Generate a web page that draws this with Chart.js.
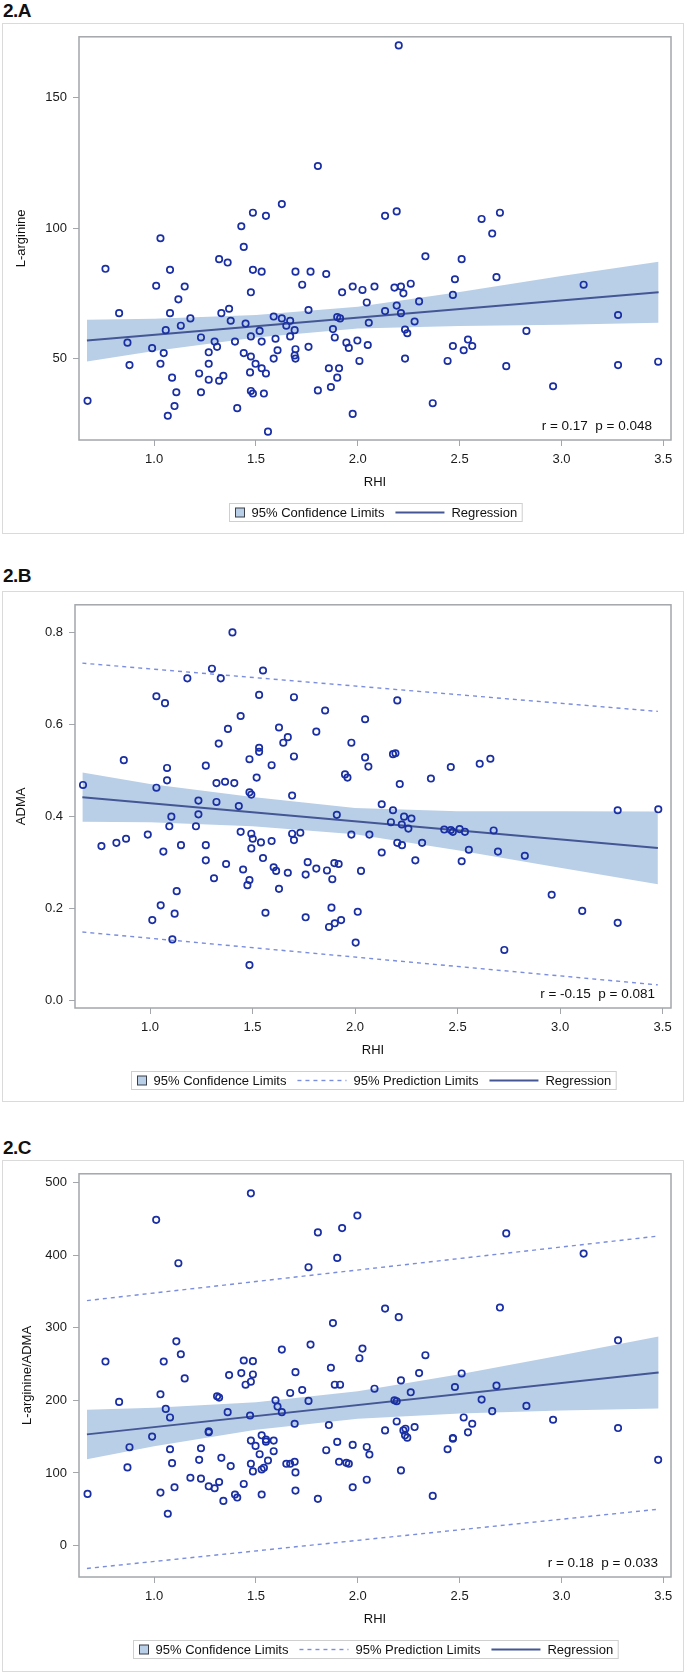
<!DOCTYPE html>
<html>
<head>
<meta charset="utf-8">
<script src="https://cdn.jsdelivr.net/npm/chart.js@4.4.0/dist/chart.umd.min.js"></script>
<style>
  body { margin: 0; background: #fff; width: 685px; height: 1674px; position: relative; overflow: hidden;
         font-family: "Liberation Sans", Arial, sans-serif; }
  .tag { position: absolute; left: 3px; font-size: 19px; line-height: 19px; color: #111; font-weight: bold; letter-spacing: -0.5px; }
  .box { position: absolute; left: 2px; width: 682px; border: 1.5px solid #dadada; box-sizing: border-box; pointer-events: none; }
  canvas { position: absolute; left: 2px; }
</style>
</head>
<body>
<div class="tag" style="top:1px">2.A</div>
<div class="tag" style="top:566px">2.B</div>
<div class="tag" style="top:1138px">2.C</div>
<canvas id="chartA" width="682" height="511" style="top:23px"></canvas>
<canvas id="chartB" width="682" height="511" style="top:591px"></canvas>
<canvas id="chartC" width="682" height="512" style="top:1160px"></canvas>
<div class="box" style="top:23px;height:511px"></div>
<div class="box" style="top:591px;height:511px"></div>
<div class="box" style="top:1160px;height:512px"></div>
<script>
// ---- data ----
var xTicks = [1.0, 1.5, 2.0, 2.5, 3.0, 3.5];
var yTicksA = [50, 100, 150];
var yTicksB = [0.0, 0.2, 0.4, 0.6, 0.8];
var yTicksC = [0, 100, 200, 300, 400, 500];

// 2.A  RHI vs L-arginine
var rhiA = [0.673,0.761,0.828,0.869,0.879,0.990,1.010,1.031,1.031,1.047,1.057,1.067,1.078,1.078,1.088,1.100,1.109,1.119,1.131,1.150,
  1.178,1.221,1.230,1.230,1.268,1.268,1.268,1.297,1.309,1.319,1.319,1.330,1.340,1.361,1.368,1.376,1.397,1.408,1.428,1.440,
  1.440,1.449,1.471,1.475,1.475,1.475,1.475,1.485,1.485,1.485,1.498,1.518,1.528,1.528,1.528,1.539,1.549,1.549,1.559,1.587,
  1.587,1.596,1.606,1.627,1.627,1.649,1.668,1.668,1.690,1.694,1.694,1.690,1.694,1.727,1.758,1.758,1.768,1.804,1.804,1.845,
  1.858,1.868,1.878,1.887,1.899,1.899,1.913,1.908,1.923,1.944,1.956,1.975,1.975,1.998,2.008,2.023,2.044,2.049,2.054,
  2.201,2.082,2.134,2.191,2.134,2.180,2.212,2.224,2.260,2.191,2.212,2.301,2.279,2.232,2.243,2.232,2.332,2.368,2.441,2.467,
  2.467,2.477,2.510,2.520,2.541,2.562,2.608,2.660,2.681,2.698,2.729,2.828,2.959,3.109,3.278,3.278,3.475];
var argA = [33.9,84.5,67.5,56.2,47.6,54.1,78.0,96.2,48.1,52.2,61.0,28.2,84.1,67.5,42.8,31.9,37.2,72.8,62.7,77.7,
  65.5,44.4,58.2,37.2,52.5,48.1,42.0,56.6,54.6,88.2,41.6,67.5,43.5,86.9,69.2,64.6,56.6,31.1,100.8,92.9,
  52.2,63.5,44.8,75.5,58.6,50.9,37.7,106.0,84.1,36.7,48.1,60.7,83.4,56.6,46.4,36.7,104.8,44.4,22.1,66.2,
  50.1,57.7,53.3,109.3,65.5,62.7,64.6,58.6,61.0,83.4,53.7,51.3,50.1,78.4,68.7,54.6,83.4,123.9,37.9,82.5,
  46.4,39.2,61.4,58.2,42.8,66.0,65.5,46.4,75.5,56.2,54.2,77.7,28.9,57.0,49.2,76.4,71.6,55.3,63.8,
  170.1,77.7,104.8,106.5,68.3,77.3,77.7,75.1,78.8,70.4,67.5,72.0,64.3,61.2,59.8,50.1,89.3,33.0,49.2,54.9,
  74.5,80.5,88.2,53.3,57.4,54.9,103.6,98.0,81.3,106.0,47.2,60.7,39.5,78.4,66.8,47.6,48.9];

// 2.B  RHI vs ADMA
var rhiB = [0.673,0.763,0.836,0.872,0.883,0.989,1.011,1.031,1.031,1.052,1.065,1.073,1.083,1.083,1.094,1.104,1.109,1.120,1.130,1.151,
  1.182,1.224,1.236,1.236,1.272,1.272,1.272,1.302,1.312,1.324,1.324,1.335,1.345,1.366,1.371,1.380,1.411,1.402,1.433,1.442,
  1.442,1.454,1.475,1.485,1.485,1.485,1.485,1.494,1.494,1.494,1.501,1.520,1.532,1.532,1.532,1.541,1.551,1.551,1.563,1.593,
  1.593,1.603,1.615,1.629,1.629,1.650,1.672,1.672,1.693,1.693,1.702,1.702,1.702,1.733,1.759,1.759,1.769,1.811,1.811,1.854,
  1.863,1.873,1.885,1.889,1.899,1.901,1.911,1.920,1.932,1.951,1.963,1.982,1.982,2.003,2.013,2.029,2.049,2.049,2.065,2.070,
  2.206,2.185,2.197,2.218,2.130,2.130,2.185,2.175,2.228,2.239,2.260,2.275,2.206,2.229,2.327,2.294,2.370,2.467,2.435,2.467,
  2.477,2.510,2.536,2.555,2.520,2.608,2.660,2.676,2.697,2.728,2.828,2.959,3.108,3.281,3.281,3.479];
var admaB = [0.468,0.335,0.342,0.522,0.351,0.360,0.174,0.661,0.462,0.206,0.323,0.646,0.505,0.478,0.378,0.399,0.132,0.188,0.237,0.337,
  0.700,0.378,0.434,0.404,0.510,0.337,0.304,0.721,0.265,0.472,0.431,0.558,0.700,0.475,0.296,0.590,0.472,0.800,0.422,0.618,
  0.366,0.284,0.250,0.524,0.452,0.261,0.076,0.447,0.362,0.330,0.351,0.484,0.664,0.549,0.540,0.343,0.717,0.309,0.190,0.511,
  0.346,0.289,0.281,0.593,0.242,0.560,0.572,0.277,0.445,0.362,0.659,0.530,0.348,0.364,0.273,0.180,0.300,0.584,0.286,0.630,
  0.282,0.159,0.201,0.263,0.298,0.167,0.403,0.296,0.174,0.491,0.484,0.560,0.360,0.125,0.192,0.281,0.611,0.528,0.508,0.360,
  0.652,0.535,0.537,0.470,0.426,0.321,0.413,0.387,0.382,0.399,0.373,0.395,0.342,0.337,0.342,0.304,0.482,0.507,0.371,0.370,
  0.366,0.372,0.366,0.327,0.302,0.514,0.525,0.369,0.323,0.109,0.314,0.229,0.194,0.413,0.168,0.415];

// 2.C  RHI vs L-arginine/ADMA
var rhiC = [0.673,0.761,0.828,0.869,0.879,0.990,1.010,1.031,1.031,1.047,1.057,1.067,1.078,1.078,1.088,1.100,1.109,1.119,1.131,1.150,
  1.178,1.221,1.230,1.230,1.268,1.268,1.268,1.297,1.309,1.319,1.319,1.330,1.340,1.361,1.368,1.376,1.397,1.408,1.428,1.440,
  1.440,1.449,1.471,1.475,1.475,1.475,1.475,1.485,1.485,1.485,1.498,1.518,1.528,1.528,1.528,1.539,1.549,1.549,1.559,1.587,
  1.587,1.596,1.606,1.627,1.627,1.649,1.668,1.668,1.690,1.694,1.690,1.694,1.694,1.727,1.758,1.758,1.768,1.804,1.804,1.845,
  1.858,1.868,1.878,1.887,1.899,1.899,1.913,1.908,1.923,1.944,1.956,1.975,1.975,1.998,2.008,2.023,2.044,2.044,2.057,
  2.082,2.134,2.134,2.201,2.180,2.191,2.191,2.212,2.212,2.224,2.234,2.232,2.243,2.260,2.279,2.301,2.332,2.368,2.441,2.467,
  2.467,2.477,2.510,2.520,2.541,2.562,2.608,2.660,2.681,2.698,2.729,2.828,2.959,3.109,3.278,3.278,3.475];
var ratioC = [71.1,253.4,197.8,107.6,135.4,150.0,448.5,208.3,72.9,253.4,188.2,43.8,176.4,132.6,113.5,80.2,281.2,388.8,263.4,230.2,
  93.4,118.0,134.0,92.1,157.2,156.0,81.6,78.9,205.6,203.7,87.5,120.8,61.5,183.7,234.7,109.4,70.2,66.1,237.5,254.8,
  84.8,221.5,179.1,144.5,225.6,112.6,485.0,253.9,235.6,102.1,137.2,125.8,151.8,70.2,104.8,107.1,145.9,143.1,117.1,144.5,
  129.9,200.1,191.4,269.8,183.7,112.6,210.1,112.6,167.7,238.8,115.3,100.7,75.7,214.2,199.2,383.3,276.7,431.2,64.3,131.3,
  165.9,244.8,306.3,221.5,142.7,396.1,221.5,115.3,437.1,113.9,112.6,138.6,80.2,454.4,258.0,271.2,135.8,90.7,125.3,
  216.0,326.3,158.6,314.5,200.1,198.7,170.9,227.4,103.5,158.6,160.9,151.8,148.6,211.0,163.2,237.5,262.1,68.4,132.6,148.1,
  147.2,218.3,237.0,176.4,155.9,167.7,201.0,185.1,220.2,327.7,429.8,192.3,173.2,402.0,282.6,161.8,118.0];

// fitted lines and limits, read at a few RHI positions
var fitX = [0.67, 3.477];
var fitA = [57.0, 75.5];
var fitB = [0.441, 0.331];
var fitC = [153.1, 238.4];
var bandX = [0.67, 1.0, 1.5, 2.0, 2.5, 3.0, 3.477];
var bandUpA = [65.0, 65.4, 66.8, 70.0, 75.6, 81.7, 87.2];
var bandLoA = [49.0, 53.0, 58.2, 61.6, 62.6, 63.1, 63.8];
var bandUpB = [0.495, 0.470, 0.442, 0.418, 0.411, 0.411, 0.410];
var bandLoB = [0.388, 0.387, 0.378, 0.361, 0.326, 0.288, 0.252];
var bandUpC = [187.0, 189.7, 197.4, 212.6, 235.8, 262.0, 288.0];
var bandLoC = [119.0, 136.7, 159.4, 174.6, 181.8, 186.0, 188.7];
var predUpB = [0.733, 0.628];
var predLoB = [0.148, 0.033];
var predUpC = [337.3, 426.2];
var predLoC = [-31.5, 50.1];

var FONT = '"Liberation Sans", Arial, sans-serif';
var markColor = '#1a2fa3';
var fitColor = '#445694';
var bandColor = '#b9cfe7';
var predColor = '#7b8ede';
var axisColor = '#a3a7ab';

function pts(xs, ys) {
  return xs.map(function (x, i) { return { x: x, y: ys[i] }; });
}

// frame round the plot area
var framePlugin = {
  id: 'frame',
  beforeDatasetsDraw: function (chart) {
    var a = chart.chartArea, ctx = chart.ctx;
    ctx.save();
    ctx.strokeStyle = axisColor;
    ctx.lineWidth = 1.5;
    ctx.strokeRect(a.left, a.top, a.right - a.left, a.bottom - a.top);
    ctx.restore();
  }
};

// r / p note in the lower right corner
var notePlugin = {
  id: 'note',
  afterDatasetsDraw: function (chart, args, o) {
    var a = chart.chartArea, ctx = chart.ctx;
    ctx.save();
    ctx.font = '13.5px ' + FONT;
    ctx.fillStyle = '#111';
    ctx.textAlign = 'right';
    ctx.textBaseline = 'middle';
    ctx.fillText(o.text, a.right - o.dx, a.bottom - 14);
    ctx.restore();
  }
};

// boxed legend under the x axis title
var legendPlugin = {
  id: 'legendBox',
  afterDraw: function (chart, args, o) {
    var a = chart.chartArea, ctx = chart.ctx;
    var items = o.items;
    ctx.save();
    ctx.font = '13px ' + FONT;
    var w = 6, parts = [];
    items.forEach(function (it, i) {
      var sw = it.kind === 'box' ? 9 : 49;
      var tw = ctx.measureText(it.text).width;
      parts.push({ it: it, sw: sw, tw: tw });
      w += sw + 7 + tw + (i < items.length - 1 ? 11 : 5);
    });
    var x0 = Math.round((a.left + a.right) / 2 - w / 2) + 0.5;
    var y0 = Math.round(a.bottom + 63) + 0.5, h = 18;
    ctx.fillStyle = '#fff';
    ctx.fillRect(x0, y0, w, h);
    ctx.strokeStyle = '#cfcfcf';
    ctx.lineWidth = 1;
    ctx.strokeRect(x0, y0, w, h);
    var x = x0 + 6, cy = y0 + h / 2;
    parts.forEach(function (p) {
      var it = p.it;
      if (it.kind === 'box') {
        ctx.fillStyle = bandColor;
        ctx.fillRect(x, cy - 4.5, 9, 9);
        ctx.strokeStyle = '#3a3f4a';
        ctx.lineWidth = 1;
        ctx.setLineDash([]);
        ctx.strokeRect(x, cy - 4.5, 9, 9);
      } else {
        ctx.strokeStyle = it.color;
        ctx.lineWidth = it.width;
        ctx.setLineDash(it.dash || []);
        ctx.beginPath();
        ctx.moveTo(x, cy);
        ctx.lineTo(x + p.sw, cy);
        ctx.stroke();
        ctx.setLineDash([]);
      }
      x += p.sw + 7;
      ctx.fillStyle = '#111';
      ctx.textAlign = 'left';
      ctx.textBaseline = 'middle';
      ctx.fillText(it.text, x, cy + 0.5);
      x += p.tw + 11;
    });
    ctx.restore();
  }
};

function makeChart(id, cfg) {
  var datasets = [
    { label: 'points', data: pts(cfg.xs, cfg.ys), pointStyle: 'circle', pointRadius: 3.2, pointHoverRadius: 3.2,
      borderWidth: 1.7, borderColor: markColor, backgroundColor: 'rgba(0,0,0,0)' },
    { type: 'line', label: 'Regression', data: pts(fitX, cfg.fit), borderColor: fitColor, borderWidth: 2,
      pointRadius: 0, fill: false, tension: 0 }
  ];
  if (cfg.predUp) {
    datasets.push({ type: 'line', label: 'pred up', data: pts(fitX, cfg.predUp), borderColor: predColor,
      borderWidth: 1.4, borderDash: [4, 4], pointRadius: 0, fill: false, tension: 0 });
    datasets.push({ type: 'line', label: 'pred lo', data: pts(fitX, cfg.predLo), borderColor: predColor,
      borderWidth: 1.4, borderDash: [4, 4], pointRadius: 0, fill: false, tension: 0 });
  }
  var upIndex = datasets.length;
  datasets.push({ type: 'line', label: 'cl up', data: pts(bandX, cfg.bandUp), borderColor: 'transparent',
    borderWidth: 0, pointRadius: 0, backgroundColor: bandColor, fill: upIndex + 1, tension: 0 });
  datasets.push({ type: 'line', label: 'cl lo', data: pts(bandX, cfg.bandLo), borderColor: 'transparent',
    borderWidth: 0, pointRadius: 0, fill: false, tension: 0 });

  var legendItems = [{ kind: 'box', text: '95% Confidence Limits' }];
  if (cfg.predUp) legendItems.push({ kind: 'line', text: '95% Prediction Limits', color: predColor, width: 1.4, dash: [4, 4] });
  legendItems.push({ kind: 'line', text: 'Regression', color: fitColor, width: 2 });

  var canvas = document.getElementById(id);
  var tickFont = { family: FONT, size: 13 };

  return new Chart(canvas, {
    type: 'scatter',
    data: { datasets: datasets },
    options: {
      responsive: false,
      animation: false,
      devicePixelRatio: 1,
      layout: { padding: { left: 0, top: 12, right: 13, bottom: canvas.height - 467 } },
      plugins: {
        legend: { display: false },
        tooltip: { enabled: false },
        note: { text: cfg.note, dx: cfg.noteDx },
        legendBox: { items: legendItems }
      },
      scales: {
        x: {
          type: 'linear', position: 'bottom', min: cfg.xMin, max: cfg.xMax,
          afterBuildTicks: function (s) { s.ticks = xTicks.map(function (v) { return { value: v }; }); },
          afterFit: function (s) { s.height = 50; },
          ticks: { font: tickFont, color: '#1a1a1a', padding: 6, maxRotation: 0, autoSkip: false,
                   callback: function (v) { return Number(v).toFixed(1); } },
          grid: { drawOnChartArea: false, drawTicks: true, tickLength: 6, color: axisColor, lineWidth: 1 },
          border: { display: false },
          title: { display: true, text: 'RHI', font: tickFont, color: '#111', padding: { top: 0, bottom: 0 } }
        },
        y: {
          type: 'linear', position: 'left', min: cfg.yMin, max: cfg.yMax,
          afterBuildTicks: function (s) { s.ticks = cfg.yTicks.map(function (v) { return { value: v }; }); },
          afterFit: function (s) { s.width = cfg.yWidth; },
          ticks: { font: tickFont, color: '#1a1a1a', padding: 6, autoSkip: false,
                   callback: function (v) { return cfg.yFmt(v); } },
          grid: { drawOnChartArea: false, drawTicks: true, tickLength: 6, color: axisColor, lineWidth: 1 },
          border: { display: false },
          title: { display: true, text: cfg.yTitle, font: tickFont, color: '#111', padding: { top: cfg.yTitlePad, bottom: 0 } }
        }
      }
    },
    plugins: [framePlugin, notePlugin, legendPlugin]
  });
}

makeChart('chartA', {
  xs: rhiA, ys: argA, fit: fitA, bandUp: bandUpA, bandLo: bandLoA,
  xMin: 0.631, xMax: 3.538, yMin: 18.9, yMax: 173.4, yTicks: yTicksA,
  yFmt: function (v) { return String(Math.round(v)); },
  yWidth: 77, yTitle: 'L-arginine', yTitlePad: 12,
  note: 'r = 0.17  p = 0.048', noteDx: 19
});

makeChart('chartB', {
  xs: rhiB, ys: admaB, fit: fitB, bandUp: bandUpB, bandLo: bandLoB, predUp: predUpB, predLo: predLoB,
  xMin: 0.634, xMax: 3.541, yMin: -0.0173, yMax: 0.860, yTicks: yTicksB,
  yFmt: function (v) { return Number(v).toFixed(1); },
  yWidth: 73, yTitle: 'ADMA', yTitlePad: 12,
  note: 'r = -0.15  p = 0.081', noteDx: 16
});

makeChart('chartC', {
  xs: rhiC, ys: ratioC, fit: fitC, bandUp: bandUpC, bandLo: bandLoC, predUp: predUpC, predLo: predLoC,
  xMin: 0.631, xMax: 3.538, yMin: -43.3, yMax: 511.9, yTicks: yTicksC,
  yFmt: function (v) { return String(Math.round(v)); },
  yWidth: 77, yTitle: 'L-arginine/ADMA', yTitlePad: 18,
  note: 'r = 0.18  p = 0.033', noteDx: 13
});
</script>
</body>
</html>
